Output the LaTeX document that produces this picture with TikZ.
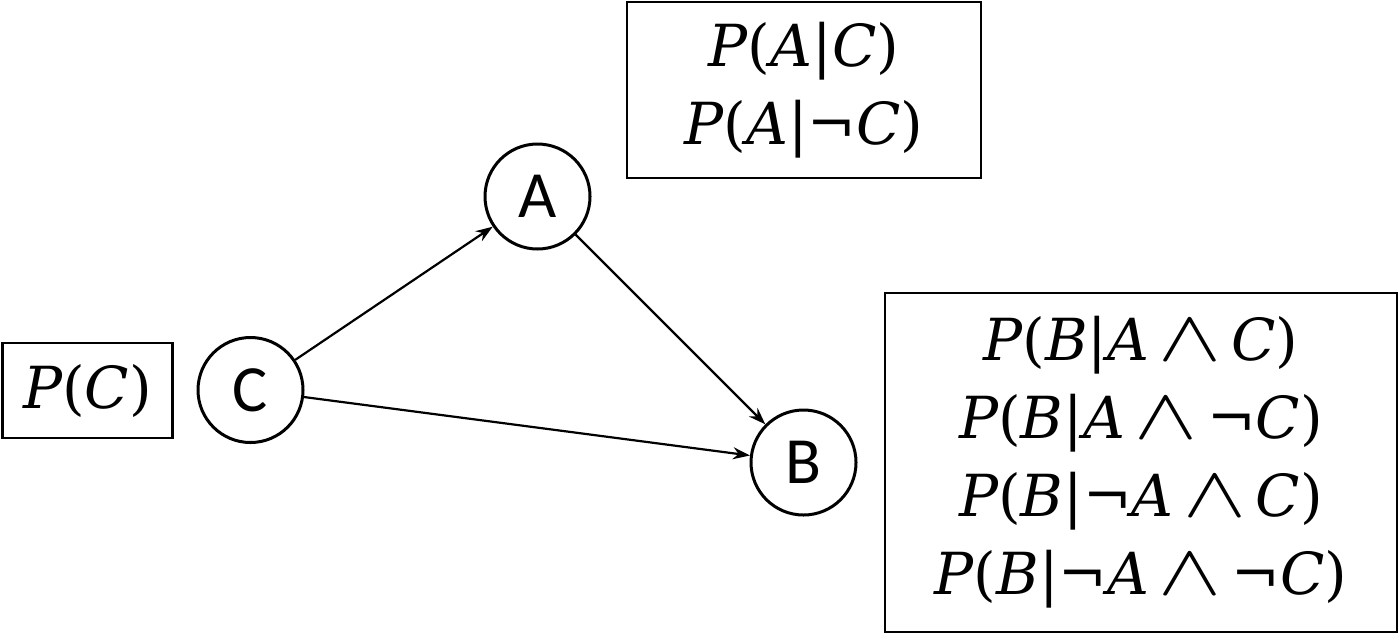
\documentclass[tikz,border=0pt]{standalone}
\usepackage{fontspec}
\newfontfamily\carlito{Carlito}
\newfontfamily\mathserif{DejaVu Serif}
\newcommand{\mv}[1]{{\itshape #1}}
\newcommand{\myand}{\,\scalebox{1.9}[1.45]{$\wedge$}\,}
\usetikzlibrary{arrows.meta}
\tikzset{
  varnode/.style={circle, draw, line width=1.5pt, minimum size=52.5pt, inner sep=0pt, font=\carlito\fontsize{33}{33}\selectfont},
  probbox/.style={draw, line width=1.2pt, inner sep=0pt, align=center, font=\mathserif\fontsize{29}{39}\selectfont},
  edge/.style={line width=1.1pt, -{Stealth[length=8.5pt,width=6pt]}}
}
\begin{document}
\begin{tikzpicture}[x=0.5pt,y=-0.5pt]
\useasboundingbox (0,0) rectangle (1400,633);
\node[varnode] (A) at (537.5,196.5) {A};
\node[varnode] (B) at (803.5,462.5) {B};
\node[varnode] (C) at (250.5,390) {C};
\node[probbox, minimum width=85pt, minimum height=47.5pt] (pc) at (87.5,390.5) {\mv{P}(\mv{C})};
\node[probbox, minimum width=177pt, minimum height=88pt] (pa) at (804,90) {\mv{P}(\mv{A}|\mv{C})\\\mv{P}(\mv{A}|¬\mv{C})};
\node[probbox, minimum width=256pt, minimum height=169.5pt] (pb) at (1141,462.5) {\mv{P}(\mv{B}|\mv{A}\myand\mv{C})\\\mv{P}(\mv{B}|\mv{A}\myand¬\mv{C})\\\mv{P}(\mv{B}|¬\mv{A}\myand\mv{C})\\\mv{P}(\mv{B}|¬\mv{A}\myand¬\mv{C})};
\draw[edge] (C) -- (A);
\draw[edge] (C) -- (B);
\draw[edge] (A) -- (B);
\end{tikzpicture}
\end{document}
